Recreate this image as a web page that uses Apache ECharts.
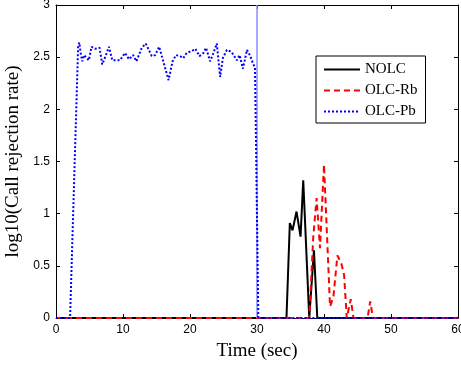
<!DOCTYPE html>
<html>
<head>
<meta charset="utf-8">
<script src="https://cdn.jsdelivr.net/npm/echarts@6/dist/echarts.min.js"></script>
<style>html,body{margin:0;padding:0;background:#fff}#c{width:461px;height:366px}</style>
</head>
<body>
<div id="c"></div>
<script>
var seriesNames = ['NOLC', 'OLC-Rb', 'OLC-Pb'];
var xTicks = [0, 10, 20, 30, 40, 50, 60];
var yTicks = [0, 0.5, 1, 1.5, 2, 2.5, 3];

var nolc = [[0,0],[34.4,0],[34.9,0.91],[35.3,0.84],[35.9,1.02],[36.5,0.78],[36.9,1.32],[37.8,0],[38.5,0.65],[39.0,0],[60,0]];

var olcRb = [[0,0],[37.8,0],[38.4,0.78],[38.9,1.15],[39.4,0.67],[40.0,1.47],[40.9,0.11],[41.4,0.2],[42.0,0.60],[42.6,0.52],[43.0,0.41],[43.4,0],[44.0,0.18],[44.4,0],[46.5,0],[46.9,0.16],[47.3,0],[60,0]];

var olcPb = [[0,0],[2.1,0],[3.3,2.6],[3.48,2.64],[3.68,2.54],[3.93,2.46],[4.2,2.52],[4.6,2.49],[4.9,2.47],[5.3,2.60],[5.8,2.58],[6.5,2.59],[6.9,2.43],[7.4,2.51],[7.9,2.60],[8.4,2.47],[9.1,2.47],[9.55,2.47],[10.3,2.54],[10.9,2.48],[11.5,2.52],[12.0,2.46],[12.8,2.59],[13.4,2.63],[14.3,2.51],[14.8,2.52],[15.4,2.60],[16.1,2.44],[16.8,2.28],[17.4,2.46],[17.9,2.52],[18.5,2.51],[19.0,2.49],[19.5,2.54],[20.3,2.56],[20.8,2.58],[21.4,2.51],[22.0,2.54],[22.4,2.59],[23.0,2.46],[23.5,2.54],[24.0,2.63],[24.5,2.31],[24.9,2.49],[25.5,2.57],[26.2,2.55],[27.0,2.47],[27.4,2.52],[27.9,2.39],[28.5,2.57],[29.0,2.51],[29.4,2.44],[29.7,2.40],[30.2,0],[60,0]];

var spikeX = 30;

var chart = echarts.init(document.getElementById('c'));
var serif = '"Liberation Serif", "Times New Roman", serif';
var sans = '"Liberation Sans", Arial, sans-serif';
var axisCommon = {
  type: 'value', min: 0, axisLine: {show: true, onZero: false, lineStyle: {color: '#000', width: 1}},
  axisTick: {show: true, inside: true, length: 4, lineStyle: {color: '#000'}},
  splitLine: {show: false}
};
chart.setOption({
  animation: false,
  backgroundColor: '#fff',
  grid: {left: 56, right: 3, top: 5, bottom: 48, outerBoundsMode: 'none', containLabel: false},
  legend: {
    data: seriesNames, orient: 'vertical', left: 316, top: 56,
    width: 110, itemWidth: 36, itemHeight: 10, itemGap: 6,
    padding: [6, 8, 4, 7],
    borderColor: '#000', borderWidth: 1, backgroundColor: '#fff',
    itemStyle: {opacity: 0},
    textStyle: {fontFamily: serif, fontSize: 15, color: '#000', padding: [0, 8, 0, 0]}
  },
  xAxis: [
    Object.assign({}, axisCommon, {max: 60, interval: 10, position: 'bottom',
      name: 'Time (sec)', nameLocation: 'middle', nameGap: 24,
      nameTextStyle: {fontFamily: serif, fontSize: 19, color: '#000'},
      axisLabel: {fontFamily: sans, fontSize: 12, color: '#000', margin: 6,
        formatter: function (v) { return xTicks.indexOf(v) >= 0 ? String(v) : ''; }}}),
    Object.assign({}, axisCommon, {max: 60, interval: 10, position: 'top', axisLabel: {show: false}})
  ],
  yAxis: [
    Object.assign({}, axisCommon, {max: 3, interval: 0.5, position: 'left',
      name: 'log10(Call rejection rate)', nameLocation: 'middle', nameGap: 27,
      nameTextStyle: {fontFamily: serif, fontSize: 19, color: '#000'},
      axisLabel: {fontFamily: sans, fontSize: 12, color: '#000', margin: 6,
        formatter: function (v) { return yTicks.indexOf(v) >= 0 ? String(v) : ''; }}}),
    Object.assign({}, axisCommon, {max: 3, interval: 0.5, position: 'right', axisLabel: {show: false}})
  ],
  series: [
    {name: 'NOLC', type: 'line', data: nolc, symbol: 'none', z: 3,
      lineStyle: {color: '#000', width: 2, type: 'solid'}, itemStyle: {color: '#000'}},
    {name: 'OLC-Rb', type: 'line', data: olcRb, symbol: 'none', z: 4,
      lineStyle: {color: '#ff0000', width: 2, type: [6, 4]}, itemStyle: {color: '#ff0000'}},
    {name: 'OLC-Pb', type: 'line', data: olcPb, symbol: 'none', z: 5,
      lineStyle: {color: '#0000ff', width: 2, type: [2, 2]}, itemStyle: {color: '#0000ff'},
      markLine: {silent: true, symbol: 'none', label: {show: false},
        lineStyle: {color: '#8c8cff', width: 1.5, type: 'solid'},
        data: [{xAxis: spikeX}]}}
  ]
});
</script>
</body>
</html>
